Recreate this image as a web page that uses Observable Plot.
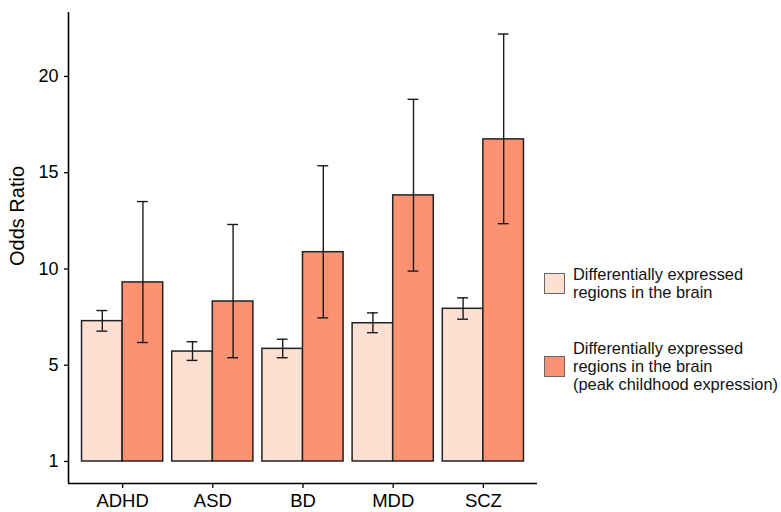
<!DOCTYPE html>
<html>
<head>
<meta charset="utf-8">
<script src="https://cdn.jsdelivr.net/npm/d3@7"></script>
<script src="https://cdn.jsdelivr.net/npm/@observablehq/plot@0.6"></script>
<style>
  html, body { margin: 0; padding: 0; background: #fff; }
  #wrap { position: relative; width: 781px; height: 512px; font-family: "Liberation Sans", Arial, Helvetica, sans-serif; }
  #chart { position: absolute; left: 0; top: 0; }
  #legend { position: absolute; left: 544px; top: 265px; font-size: 16.4px; line-height: 18px; color: #111; }
  .item { display: flex; align-items: center; margin-bottom: 38px; }
  .sw { width: 19px; height: 19px; border: 1px solid #666; margin-right: 8px; flex: none; }
</style>
</head>
<body>
<div id="wrap">
  <div id="chart"></div>
  <div id="legend"></div>
</div>
<script>
const categories = ["ADHD", "ASD", "BD", "MDD", "SCZ"];
const seriesNames = [
  "Differentially expressed regions in the brain",
  "Differentially expressed regions in the brain (peak childhood expression)"
];
const seriesLines = [
  ["Differentially expressed", "regions in the brain"],
  ["Differentially expressed", "regions in the brain", "(peak childhood expression)"]
];
const seriesColors = ["#FEE0D2", "#FC9272"];
const yTitle = "Odds Ratio";
// values read on the drawn axis (bottom tick labelled "1" sits at the bars' base)
const orAll  = [7.29, 5.71, 5.85, 7.18, 7.93];
const loAll  = [6.77, 5.25, 5.39, 6.69, 7.39];
const hiAll  = [7.84, 6.22, 6.35, 7.72, 8.50];
const orPeak = [9.30, 8.31, 10.87, 13.82, 16.73];
const loPeak = [6.18, 5.39, 7.46, 9.89, 12.35];
const hiPeak = [13.50, 12.31, 15.36, 18.81, 22.20];
const yTickValues = [0, 5, 10, 15, 20];
const yTickLabels = ["1", "5", "10", "15", "20"];

const half = 0.45, cap = 0.06;
const rows = [];
categories.forEach((c, i) => {
  rows.push({cat: c, series: seriesNames[0], x1: i - half, x2: i, or: orAll[i], lo: loAll[i], hi: hiAll[i]});
  rows.push({cat: c, series: seriesNames[1], x1: i, x2: i + half, or: orPeak[i], lo: loPeak[i], hi: hiPeak[i]});
});
rows.forEach(d => d.xc = (d.x1 + d.x2) / 2);

const xDomain = [-0.6, categories.length - 0.4];
const yDomain = [-1.143, 23.32];

const chart = Plot.plot({
  width: 545,
  height: 512,
  marginLeft: 68,
  marginRight: 8,
  marginTop: 12,
  marginBottom: 29,
  style: {fontFamily: "'Liberation Sans', Arial, Helvetica, sans-serif", fontSize: "18px", color: "#000", background: "#fff"},
  x: {domain: xDomain},
  y: {domain: yDomain},
  color: {domain: seriesNames, range: seriesColors},
  marks: [
    Plot.rect(rows, {x1: "x1", x2: "x2", y1: 0, y2: "or", fill: "series", stroke: "#222", strokeWidth: 1.5}),
    Plot.ruleX(rows, {x: "xc", y1: "lo", y2: "hi", stroke: "#1a1a1a", strokeWidth: 1.4}),
    Plot.ruleY(rows, {y: "hi", x1: d => d.xc - cap, x2: d => d.xc + cap, stroke: "#1a1a1a", strokeWidth: 1.4}),
    Plot.ruleY(rows, {y: "lo", x1: d => d.xc - cap, x2: d => d.xc + cap, stroke: "#1a1a1a", strokeWidth: 1.4}),
    Plot.axisX({ticks: categories.map((c, i) => i), tickFormat: i => categories[i], tickSize: 5, tickPadding: 5, label: null, fontSize: 18.5, stroke: "#000", strokeWidth: 1.3}),
    Plot.axisY({ticks: yTickValues, tickFormat: v => yTickLabels[yTickValues.indexOf(v)], tickSize: 4, tickPadding: 6, label: null, fontSize: 18, stroke: "#000", strokeWidth: 1.3}),
    Plot.text([yTitle], {frameAnchor: "left", rotate: -90, dx: -51, dy: 18, fontSize: 20, fill: "#000"}),
    Plot.ruleX([xDomain[0]], {stroke: "#000", strokeWidth: 1.6}),
    Plot.ruleY([yDomain[0]], {stroke: "#000", strokeWidth: 1.6})
  ]
});
document.getElementById("chart").appendChild(chart);

const legend = document.getElementById("legend");
seriesNames.forEach((s, k) => {
  const item = document.createElement("div");
  item.className = "item";
  const sw = document.createElement("div");
  sw.className = "sw";
  sw.style.background = seriesColors[k];
  const txt = document.createElement("div");
  txt.innerHTML = seriesLines[k].join("<br>");
  item.appendChild(sw);
  item.appendChild(txt);
  legend.appendChild(item);
});
</script>
</body>
</html>
